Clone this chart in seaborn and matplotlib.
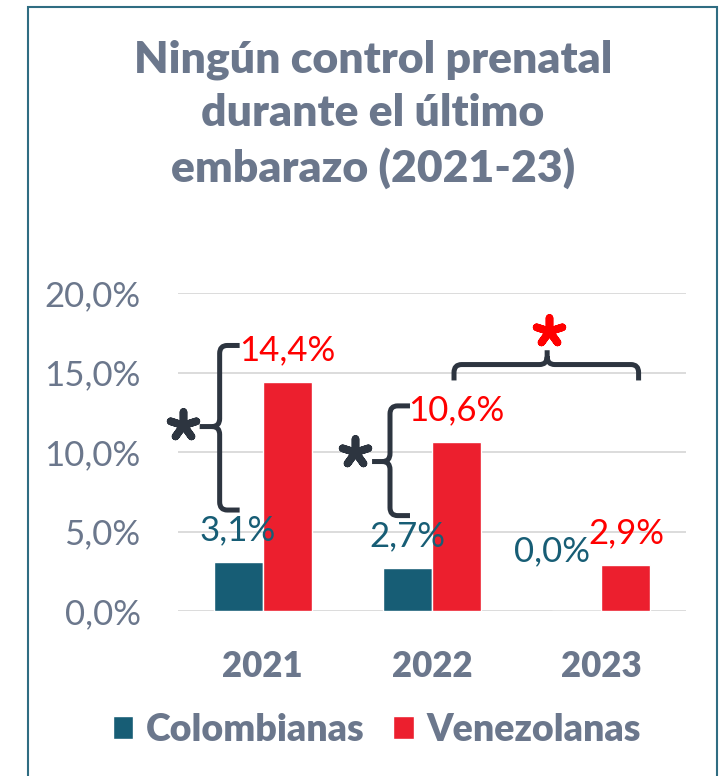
import numpy as np
import pandas as pd
import seaborn as sns
import matplotlib.pyplot as plt
import matplotlib.ticker as ticker
from matplotlib.path import Path
from matplotlib.patches import PathPatch, Rectangle

# datos
years = ["2021", "2022", "2023"]
colombianas = [3.1, 2.7, 0.0]
venezolanas = [14.4, 10.6, 2.9]
grupos = ["Colombianas", "Venezolanas"]
yticks = [0, 5, 10, 15, 20]

titulo = "Ningún control prenatal\ndurante el último\nembarazo (2021-23)"

c_col = "#175d75"
c_ven = "#ec1f2e"
c_txt = "#6b778c"
c_dark = "#2d3540"
c_red = "#ff0000"

df = pd.DataFrame({
    "year": years * 2,
    "valor": colombianas + venezolanas,
    "grupo": [grupos[0]] * 3 + [grupos[1]] * 3,
})

sns.set_style("white")
plt.rcParams["font.family"] = ["Lato", "DejaVu Sans"]

fig = plt.figure(figsize=(7.28, 7.76), dpi=100)
ax = fig.add_axes([178 / 728, 1 - 611 / 776, 508 / 728, 318 / 776])

sns.barplot(data=df, x="year", y="valor", hue="grupo", order=years,
            hue_order=grupos, palette={grupos[0]: c_col, grupos[1]: c_ven},
            width=0.58, saturation=1, ax=ax)

ax.set_ylim(0, 20)
ax.set_xlim(-0.5, 2.5)
ax.set_yticks(yticks)
ax.yaxis.set_major_formatter(ticker.FuncFormatter(lambda v, p: f"{v:.1f}%".replace(".", ",")))
ax.yaxis.grid(True, color="#d9d9d9", lw=1.3)
ax.set_axisbelow(True)
for s in ax.spines.values():
    s.set_visible(False)
ax.tick_params(axis="y", length=0, pad=27, labelsize=25, labelcolor=c_txt)
ax.tick_params(axis="x", length=0, pad=28, labelsize=25, labelcolor=c_txt)
for t in ax.get_xticklabels():
    t.set_fontweight("heavy")
ax.set_xlabel("")
ax.set_ylabel("")

# etiquetas de valores
for cont, col in zip(ax.containers, [c_col, c_red]):
    for bar in cont:
        v = bar.get_height()
        xc = bar.get_x() + bar.get_width() / 2
        txt = f"{v:.1f}%".replace(".", ",")
        if v == 0:
            off, dx = 43, -18
        else:
            off, dx = 23, 0
        ax.annotate(txt, (xc, v), xytext=(dx, off), textcoords="offset points",
                    ha="center", va="center", fontsize=25, color=col)


# llaves
def llave_vertical(x0, y1, y2, ym, xh, xm, rx=0.045, ry=0.5):
    verts = [(xh, y1), (x0 + rx, y1), (x0, y1), (x0, y1 - ry),
             (x0, ym + ry), (x0, ym), (x0 - rx, ym), (xm, ym),
             (x0 - rx, ym), (x0, ym), (x0, ym - ry),
             (x0, y2 + ry), (x0, y2), (x0 + rx, y2), (xh, y2)]
    codes = [Path.MOVETO, Path.LINETO, Path.CURVE3, Path.CURVE3,
             Path.LINETO, Path.CURVE3, Path.CURVE3, Path.LINETO,
             Path.MOVETO, Path.CURVE3, Path.CURVE3,
             Path.LINETO, Path.CURVE3, Path.CURVE3, Path.LINETO]
    ax.add_patch(PathPatch(Path(verts, codes), fill=False, ec=c_dark, lw=3.6,
                           clip_on=False, capstyle="butt", joinstyle="round"))


def llave_horizontal(x1, x2, yh, yb, xm, ytip, rx=0.045, ry=0.5):
    verts = [(x1, yb), (x1, yh - ry), (x1, yh), (x1 + rx, yh),
             (xm - rx, yh), (xm, yh), (xm, yh + ry), (xm, ytip),
             (xm, yh + ry), (xm, yh), (xm + rx, yh),
             (x2 - rx, yh), (x2, yh), (x2, yh - ry), (x2, yb)]
    codes = [Path.MOVETO, Path.LINETO, Path.CURVE3, Path.CURVE3,
             Path.LINETO, Path.CURVE3, Path.CURVE3, Path.LINETO,
             Path.MOVETO, Path.CURVE3, Path.CURVE3,
             Path.LINETO, Path.CURVE3, Path.CURVE3, Path.LINETO]
    ax.add_patch(PathPatch(Path(verts, codes), fill=False, ec=c_dark, lw=3.6,
                           clip_on=False, capstyle="butt", joinstyle="round"))


llave_vertical(-0.254, 16.7, 6.35, 11.6, -0.136, -0.372)
llave_vertical(0.752, 12.9, 6.0, 9.4, 0.87, 0.646)
llave_horizontal(1.13, 2.22, 15.5, 14.5, 1.68, 16.4)

ast = (5, 2, 0)
ax.scatter([-0.47, 0.545], [11.7, 10.0], marker=ast, s=380, lw=5.5,
           color=c_dark, clip_on=False, zorder=5)
ax.scatter([1.69], [17.6], marker=ast, s=380, lw=5.5,
           color=c_red, clip_on=False, zorder=5)

# leyenda
h, l = ax.get_legend_handles_labels()
ax.legend_.remove()
fig.legend(h, l, loc="center", bbox_to_anchor=(377 / 728, 1 - 730 / 776),
           ncol=2, frameon=False, handlelength=0.55, handleheight=0.55,
           handletextpad=0.35, columnspacing=0.75,
           prop={"size": 27, "weight": "heavy"}, labelcolor=c_txt)

# titulo
fig.text(373 / 728, 1 - 114 / 776, titulo, ha="center", va="center",
         fontsize=32, fontweight="heavy", color=c_txt, linespacing=1.4)

# marco
fig.add_artist(Rectangle((28 / 728, -0.01), 689 / 728, 1 - 7 / 776 + 0.01,
                         transform=fig.transFigure, fill=False,
                         ec="#2f6d82", lw=1.5))

plt.savefig("out.png", dpi=100)
plt.close()
